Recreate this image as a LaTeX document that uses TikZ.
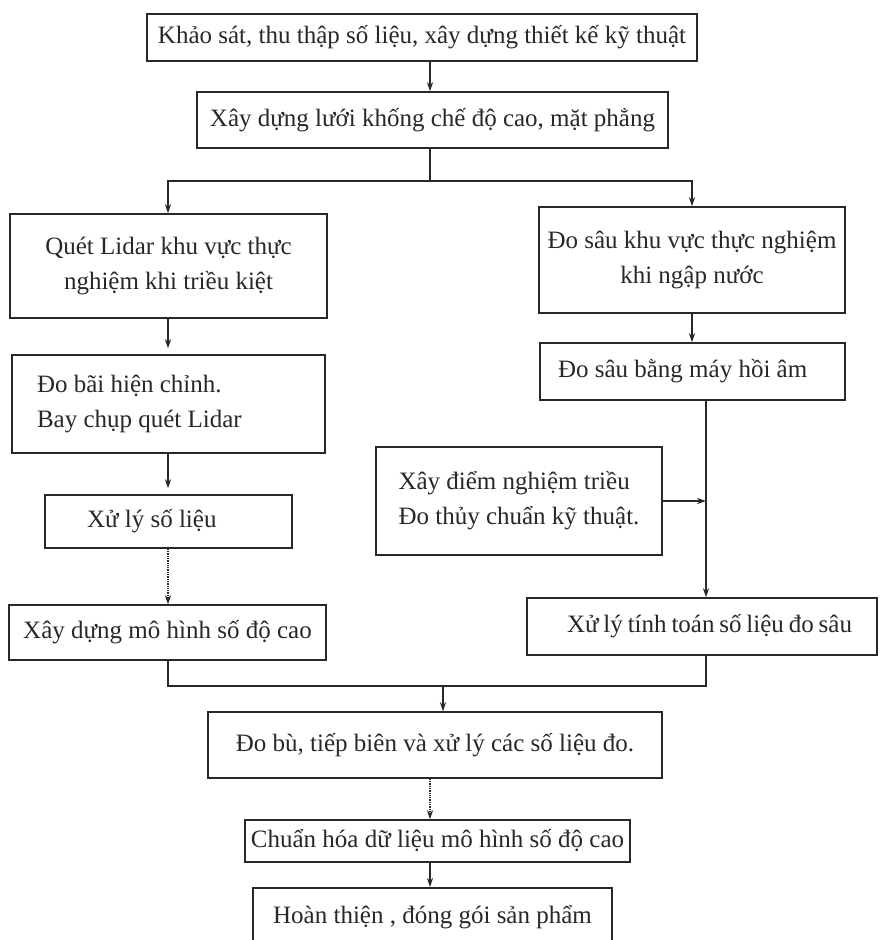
\documentclass[tikz,border=0pt]{standalone}
\usepackage{fontspec}
\setmainfont{Liberation Serif}
\usetikzlibrary{arrows.meta,calc}
\definecolor{ink}{RGB}{40,40,40}
\begin{document}
\begin{tikzpicture}[x=1pt,y=-1pt,
  box/.style={draw=ink, line width=1.5pt, rectangle, inner sep=0pt, align=center,
    font=\fontsize{25}{35}\selectfont, text=ink},
  arr/.style={draw=ink, line width=1.3pt, -{Stealth[length=9pt,width=6pt]}},
  dotarr/.style={arr, densely dotted},
  ln/.style={draw=ink, line width=1.3pt}]
\useasboundingbox (0,0) rectangle (884,940);
\fill[white] (0,0) rectangle (884,940);

\node[box, minimum width=550pt, minimum height=47pt] (b1) at (422,37.5)
  {Khảo sát, thu thập số liệu, xây dựng thiết kế kỹ thuật};
\node[box, minimum width=471pt, minimum height=56pt] (b2) at (432.5,120)
  {Xây dựng lưới khống chế độ cao, mặt phẳng};
\node[box, minimum width=317pt, minimum height=104pt] (b3) at (168.5,266)
  {Quét Lidar khu vực thực\\nghiệm khi triều kiệt};
\node[box, minimum width=306pt, minimum height=106pt] (b4) at (692,260)
  {Đo sâu khu vực thực nghiệm\\khi ngập nước};
\node[box, inner xsep=25pt, minimum height=98pt] (b5) at (168.5,404)
  {\parbox{263pt}{Đo bãi hiện chỉnh.\\Bay chụp quét Lidar}};
\node[box, inner xsep=18pt, minimum height=57pt] (b6) at (692.5,371.5)
  {\parbox{269pt}{Đo sâu bằng máy hồi âm}};
\node[box, align=left, minimum width=286pt, minimum height=108pt] (b7) at (519,501)
  {Xây điểm nghiệm triều\\Đo thủy chuẩn kỹ thuật.};
\node[box, inner xsep=42pt, minimum height=53pt] (b8) at (168.5,521.5)
  {\parbox{163pt}{Xử lý số liệu}};
\node[box, minimum width=317pt, minimum height=55pt] (b9) at (167.5,632.5)
  {Xây dựng mô hình số độ cao};
\node[box, inner xsep=25pt, minimum height=57pt] (b10) at (702,626.5)
  {\parbox{300pt}{\hspace*{15pt}Xử lý tính toán số liệu đo sâu}};
\node[box, minimum width=454pt, minimum height=66pt] (b11) at (435,745)
  {Đo bù, tiếp biên và xử lý các số liệu đo.};
\node[box, minimum width=385pt, minimum height=42pt] (b12) at (437.5,841)
  {Chuẩn hóa dữ liệu mô hình số độ cao};
\node[box, minimum width=359pt, minimum height=58pt, anchor=north] (b13) at (432.5,887)
  {Hoàn thiện , đóng gói sản phẩm};

% coordinates for connector positions
\coordinate (xc) at (430,0);
\coordinate (xl) at (168,0);
\coordinate (xr) at (692,0);
\coordinate (xv) at (706,0);
\coordinate (xm) at (443,0);
\coordinate (split) at (430,181);
\coordinate (merge) at (443,686);

\draw[arr] (b1.south -| xc) -- (b2.north -| xc);
\draw[ln] (b2.south -| xc) -- (split);
\draw[arr] (split) -| (b3.north -| xl);
\draw[arr] (split) -| (b4.north -| xr);
\draw[arr, shorten >=6pt] (b3.south -| xl) -- (b5.north -| xl);
\draw[arr] (b4.south -| xr) -- (b6.north -| xr);
\draw[arr, shorten >=6pt] (b5.south -| xl) -- (b8.north -| xl);
\draw[dotarr] (b8.south -| xl) -- (b9.north -| xl);
\draw[arr] (b6.south -| xv) -- (b10.north -| xv);
\draw[arr] (b7.east) -- (b7.east -| xv);
\draw[ln] (b9.south -| xl) |- (merge);
\draw[ln] (b10.south -| xv) |- (merge);
\draw[arr] (merge) -- (b11.north -| xm);
\draw[dotarr] (b11.south -| xc) -- (b12.north -| xc);
\draw[arr] (b12.south -| xc) -- (b13.north -| xc);
\end{tikzpicture}
\end{document}
